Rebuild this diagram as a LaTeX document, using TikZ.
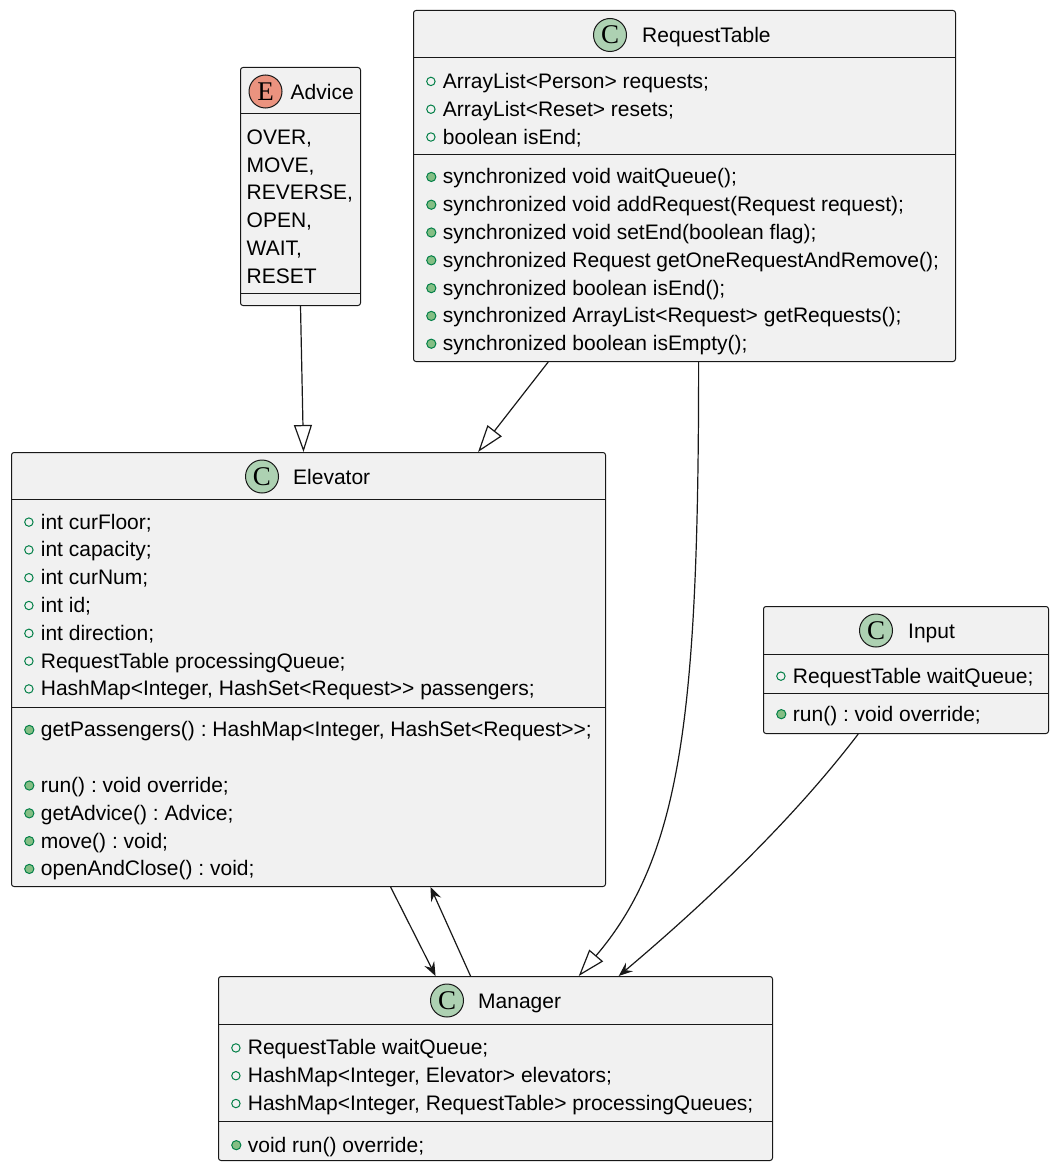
\documentclass[tikz,border=0pt]{standalone}
\usepackage{fontspec}
\setmainfont{Liberation Sans}
\newfontfamily\iconfont{Liberation Serif}
\usepackage{tikz}
\usetikzlibrary{arrows.meta,positioning,calc}
\definecolor{boxbg}{HTML}{F1F1F1}
\definecolor{boxline}{HTML}{181818}
\definecolor{cgreen}{HTML}{ADD1B2}
\definecolor{esalmon}{HTML}{EB937F}
\definecolor{visline}{HTML}{038048}
\definecolor{visfill}{HTML}{84BE84}
\frenchspacing
\newcommand{\fld}{\tikz[baseline={(0pt,-7pt)}]\draw[visline, line width=1pt] (0pt,0pt) circle (4.2pt);\hspace{7.3pt}}
\newcommand{\mth}{\tikz[baseline={(0pt,-7pt)}]\draw[visline, fill=visfill, line width=1pt] (0pt,0pt) circle (4.6pt);\hspace{6.5pt}}
\tikzstyle{classbox} = [rectangle, rounded corners=2.5pt, draw=boxline, fill=boxbg, line width=1pt, inner sep=0pt, anchor=north west]
\tikzstyle{sepline} = [draw=boxline, line width=1pt]
\tikzstyle{classmark} = [circle, draw=boxline, fill=cgreen, line width=1pt, minimum size=33pt, inner sep=0pt, font=\iconfont\fontsize{27}{27}\selectfont]
\tikzstyle{enummark} = [classmark, fill=esalmon]
\tikzstyle{classname} = [inner sep=0pt, text height=16pt, text depth=0pt, font=\fontsize{21}{25}\selectfont]
\tikzstyle{members} = [anchor=north west, inner sep=0pt, align=left, font=\fontsize{21}{27.8}\selectfont, execute at begin node=\strut]
\tikzstyle{inherit} = [draw=boxline, line width=1.2pt, -{Triangle[open, length=27pt, width=18pt]}]
\tikzstyle{assoc} = [draw=boxline, line width=1.2pt, -{Stealth[length=14pt, width=11pt, inset=5pt]}]

\begin{document}
\begin{tikzpicture}[x=1pt, y=-1pt]
\useasboundingbox (0,0) rectangle (1057,1169);

% classes =============================

% Advice
\node[classbox, minimum width=120pt, minimum height=238pt] (adv) at (240,67) {};
\draw[sepline] ([yshift=-47pt]adv.north west) -- ([yshift=-47pt]adv.north east);
\draw[sepline] ([yshift=-226pt]adv.north west) -- ([yshift=-226pt]adv.north east);
\node[enummark] (advicon) at (265.5,91.5) {E};
\node[classname, right=8pt of advicon] (advname) {Advice};
\node[members] (advval) at (246.5,129.5) {OVER,\\ MOVE,\\ REVERSE,\\ OPEN,\\ WAIT,\\ RESET};

% RequestTable
\node[classbox, minimum width=542pt, minimum height=351pt] (req) at (413,10) {};
\draw[sepline] ([yshift=-47.5pt]req.north west) -- ([yshift=-47.5pt]req.north east);
\draw[sepline] ([yshift=-145pt]req.north west) -- ([yshift=-145pt]req.north east);
\node[classmark] (reqicon) at (610,35) {C};
\node[classname, right=15pt of reqicon] (reqname) {RequestTable};
\node[members] (reqfld) at (426,73) {\fld ArrayList<Person> requests;\\ \fld ArrayList<Reset> resets;\\ \fld boolean isEnd;};
\node[members] (reqmth) at (426,168.5) {\mth synchronized void waitQueue();\\ \mth synchronized void addRequest(Request request);\\ \mth synchronized void setEnd(boolean flag);\\ \mth synchronized Request getOneRequestAndRemove();\\ \mth synchronized boolean isEnd();\\ \mth synchronized ArrayList<Request> getRequests();\\ \mth synchronized boolean isEmpty();};

% Elevator
\node[classbox, minimum width=594pt, minimum height=434pt] (elev) at (11,452) {};
\draw[sepline] ([yshift=-47pt]elev.north west) -- ([yshift=-47pt]elev.north east);
\draw[sepline] ([yshift=-255pt]elev.north west) -- ([yshift=-255pt]elev.north east);
\node[classmark] (elevicon) at (262,476.5) {C};
\node[classname, right=14pt of elevicon] (elevname) {Elevator};
\node[members] (elevfld) at (24,513.7) {\fld int curFloor;\\ \fld int capacity;\\ \fld int curNum;\\ \fld int id;\\ \fld int direction;\\ \fld RequestTable processingQueue;\\ \fld HashMap<Integer, HashSet<Request>\kern0pt> passengers;};
\node[members] (elevmth) at (24,721.5) {\mth getPassengers() : HashMap<Integer, HashSet<Request>\kern0pt>;\\ \mbox{}\\ \mth run() : void override;\\ \mth getAdvice() : Advice;\\ \mth move() : void;\\ \mth openAndClose() : void;};

% Input
\node[classbox, minimum width=285pt, minimum height=127pt] (inp) at (763,606) {};
\draw[sepline] ([yshift=-48pt]inp.north west) -- ([yshift=-48pt]inp.north east);
\draw[sepline] ([yshift=-87pt]inp.north west) -- ([yshift=-87pt]inp.north east);
\node[classmark] (inpicon) at (876,630.5) {C};
\node[classname, right=15pt of inpicon] (inpname) {Input};
\node[members] (inpfld) at (776,663.5) {\fld RequestTable waitQueue;};
\node[members] (inpmth) at (776,701.5) {\mth run() : void override;};

% Manager
\node[classbox, minimum width=554pt, minimum height=184pt] (mgr) at (218,976) {};
\draw[sepline] ([yshift=-48pt]mgr.north west) -- ([yshift=-48pt]mgr.north east);
\draw[sepline] ([yshift=-145pt]mgr.north west) -- ([yshift=-145pt]mgr.north east);
\node[classmark] (mgricon) at (447,1000.5) {C};
\node[classname, right=14pt of mgricon] (mgrname) {Manager};
\node[members] (mgrfld) at (231,1039.5) {\fld RequestTable waitQueue;\\ \fld HashMap<Integer, Elevator> elevators;\\ \fld HashMap<Integer, RequestTable> processingQueues;};
\node[members] (mgrmth) at (231,1132.5) {\mth void run() override;};

%edges
\path[inherit] (adv.south) -- ([xshift=3pt]adv.south |- elev.north);
\path[inherit] ($(req.south west)!0.249!(req.south east)$) -- ($(elev.north west)!0.785!(elev.north east)$);
\path[inherit] ($(req.south west)!0.526!(req.south east)$) .. controls +(0,350) and +(103,-121) .. ($(mgr.north west)!0.65!(mgr.north east)$);
\path[assoc] ($(inp.south west)!0.333!(inp.south east)$) .. controls +(-58,76) and +(102,-86) .. ($(mgr.north west)!0.722!(mgr.north east)$);
\path[assoc] ($(elev.south west)!0.638!(elev.south east)$) -- ($(mgr.north west)!0.392!(mgr.north east)$);
\path[assoc] ($(mgr.north west)!0.455!(mgr.north east)$) -- ($(elev.south west)!0.705!(elev.south east)$);

\end{tikzpicture}
\end{document}
